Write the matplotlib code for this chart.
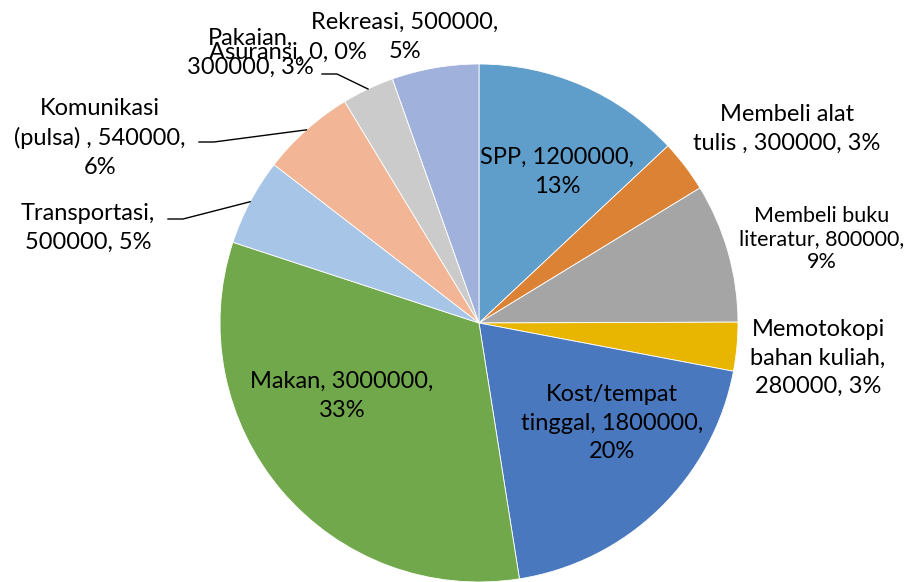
import numpy as np
import matplotlib.pyplot as plt

labels = ['SPP', 'Membeli alat\ntulis ', 'Membeli buku\nliteratur', 'Memotokopi\nbahan kuliah',
          'Kost/tempat\ntinggal', 'Makan', 'Transportasi', 'Komunikasi\n(pulsa) ',
          'Pakaian', 'Asuransi', 'Rekreasi']
values = [1200000, 300000, 800000, 280000, 1800000, 3000000, 500000, 540000, 300000, 0, 500000]
colors = ['#5F9DCB', '#DC8235', '#A5A5A5', '#E8B600', '#4A78BF', '#71A84C',
          '#A7C5E6', '#F2B697', '#CBCBCB', '#F7D46A', '#A0B1DC']

# label text (full string) and placement in pixel coords (x, y from top)
label_text = [
    'SPP, 1200000,\n13%',
    'Membeli alat\ntulis , 300000, 3%',
    'Membeli buku\nliteratur, 800000,\n9%',
    'Memotokopi\nbahan kuliah,\n280000, 3%',
    'Kost/tempat\ntinggal, 1800000,\n20%',
    'Makan, 3000000,\n33%',
    'Transportasi,\n500000, 5%',
    'Komunikasi\n(pulsa) , 540000,\n6%',
    'Pakaian,\n300000, 3%',
    'Asuransi, 0, 0%',
    'Rekreasi, 500000,\n5%',
]
label_pos = [(557, 172), (787, 129), (822, 239), (818, 358), (612, 423), (342, 396),
             (88, 228), (100, 138), (250, 53), (288, 52), (405, 37)]
label_size = [17, 17, 15.5, 17, 17, 17, 17, 17, 17, 17, 17]
leader = {6: (168, 219), 7: (199, 142), 8: (322, 74)}

W, H = 910, 582
cx, cy, r = 479, 323, 259

plt.rcParams['font.family'] = ['Lato', 'DejaVu Sans']

fig = plt.figure(figsize=(W / 100, H / 100), dpi=100)
ax = fig.add_axes([0, 0, 1, 1])

wedges, _ = ax.pie(values, colors=colors, startangle=90, counterclock=False,
                   center=(cx, H - cy), radius=r,
                   wedgeprops=dict(edgecolor='white', linewidth=0.6))
ax.set_xlim(0, W)
ax.set_ylim(0, H)
ax.set_aspect('equal')
ax.axis('off')

for i, (txt, (x, y)) in enumerate(zip(label_text, label_pos)):
    ls = 1.2 if label_size[i] < 17 else 1.45
    ax.text(x, H - y, txt, ha='center', va='center', fontsize=label_size[i],
            linespacing=ls, color='black', zorder=5)

for i, (x0, y0) in leader.items():
    w = wedges[i]
    ang = np.deg2rad((w.theta1 + w.theta2) / 2)
    ex = cx + r * np.cos(ang)
    ey = (H - cy) + r * np.sin(ang)
    ax.plot([x0, x0 + 15, ex], [H - y0, H - y0, ey], color='black', lw=1.0, zorder=4)

fig.savefig('out.png', dpi=100)
